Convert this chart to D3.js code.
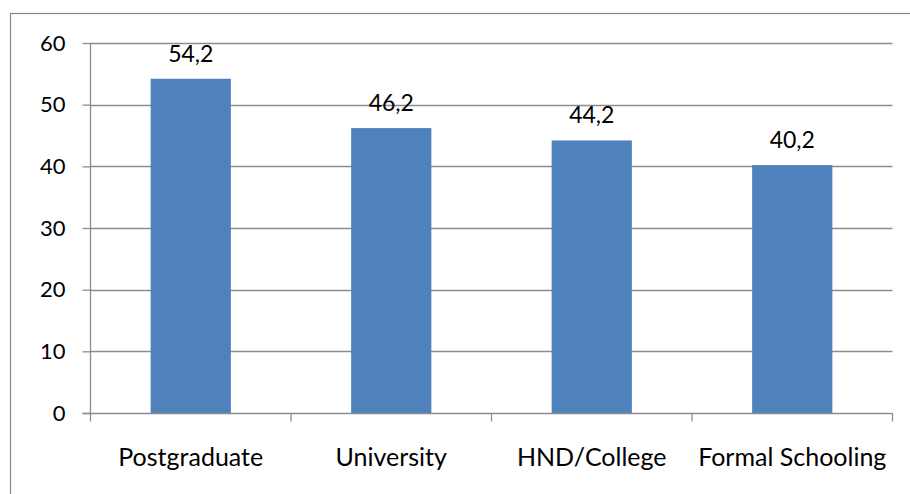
<!DOCTYPE html>
<html>
<head>
<meta charset="utf-8">
<script src="https://cdn.jsdelivr.net/npm/d3@7"></script>
<style>
  html, body { margin: 0; padding: 0; background: #fff; }
  svg { display: block; }
  text { font-family: Lato, "Liberation Sans", sans-serif; fill: #000; }
</style>
</head>
<body>
<svg id="chart" width="910" height="494"></svg>
<script>
// Education level categories and their values
const categories = ["Postgraduate", "University", "HND/College", "Formal Schooling"];
const values = [54.2, 46.2, 44.2, 40.2];
const valueLabels = ["54,2", "46,2", "44,2", "40,2"];
const yTicks = [0, 10, 20, 30, 40, 50, 60];

const svg = d3.select("#chart");
const plot = { left: 90.5, right: 892.5, top: 43, bottom: 413 };

// Outer chart frame
svg.append("rect")
  .attr("x", 10.5).attr("y", 13.5)
  .attr("width", 1000).attr("height", 600)
  .attr("fill", "none").attr("stroke", "#888").attr("stroke-width", 1.2);

const x = d3.scaleBand()
  .domain(categories)
  .range([plot.left, plot.right])
  .paddingInner(0.6).paddingOuter(0.3);

const y = d3.scaleLinear().domain([0, 60]).range([plot.bottom, plot.top]);

// Horizontal gridlines
svg.append("g")
  .selectAll("line")
  .data(yTicks.filter(d => d > 0))
  .join("line")
  .attr("x1", plot.left).attr("x2", plot.right)
  .attr("y1", d => Math.round(y(d)) + 0.5).attr("y2", d => Math.round(y(d)) + 0.5)
  .attr("stroke", "#8c8c8c").attr("stroke-width", 1.3);

// Bars
svg.append("g")
  .selectAll("rect")
  .data(values)
  .join("rect")
  .attr("x", (d, i) => x(categories[i]))
  .attr("width", x.bandwidth())
  .attr("y", d => y(d))
  .attr("height", d => y(0) - y(d))
  .attr("fill", "#4f81bd");

// Y axis
const yAxis = d3.axisLeft(y).tickValues(yTicks).tickSize(8).tickPadding(17);
const gy = svg.append("g")
  .attr("transform", `translate(${plot.left},0)`)
  .call(yAxis);
gy.selectAll("path, line").attr("stroke", "#8c8c8c").attr("stroke-width", 1.3);
gy.select(".domain").attr("d", `M0,${plot.top}V${plot.bottom}`);
gy.selectAll("text")
  .attr("font-family", "Lato, 'Liberation Sans', sans-serif")
  .attr("font-size", 22).attr("fill", "#000");

// X axis with boundary ticks between categories
const gx = svg.append("g").attr("transform", `translate(0,${plot.bottom + 0.5})`);
gx.append("line")
  .attr("x1", plot.left - 8).attr("x2", plot.right)
  .attr("stroke", "#8c8c8c").attr("stroke-width", 1.3);
const step = (plot.right - plot.left) / categories.length;
gx.selectAll("line.tick")
  .data(d3.range(categories.length + 1))
  .join("line")
  .attr("class", "tick")
  .attr("x1", i => plot.left + i * step).attr("x2", i => plot.left + i * step)
  .attr("y1", 0).attr("y2", 8)
  .attr("stroke", "#8c8c8c").attr("stroke-width", 1.3);
gx.selectAll("text")
  .data(categories)
  .join("text")
  .attr("x", d => x(d) + x.bandwidth() / 2)
  .attr("y", 52)
  .attr("text-anchor", "middle")
  .attr("font-size", 25)
  .text(d => d);

// Value labels above bars
svg.append("g")
  .selectAll("text")
  .data(values)
  .join("text")
  .attr("x", (d, i) => x(categories[i]) + x.bandwidth() / 2)
  .attr("y", d => y(d) - 17)
  .attr("text-anchor", "middle")
  .attr("font-size", 23)
  .text((d, i) => valueLabels[i]);
</script>
</body>
</html>
